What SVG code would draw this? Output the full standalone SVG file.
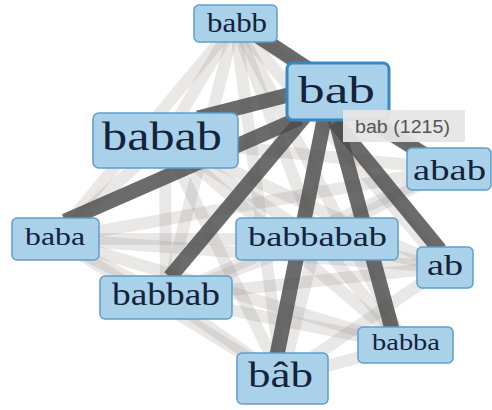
<svg xmlns="http://www.w3.org/2000/svg" width="492" height="410" viewBox="0 0 492 410">
<style>
.light line{stroke:#8f8a88;stroke-opacity:0.2;stroke-width:12;stroke-linecap:butt}
.dark line{stroke:#4a4a4a;stroke-opacity:0.82;stroke-width:15;stroke-linecap:butt}
.node rect{fill:#a9d1e9;stroke:#5f9fc9;stroke-width:1.5}
.node text{font-family:"Liberation Serif","Times New Roman",serif;fill:#14223a;text-anchor:start}
#n-bab rect{stroke:#3a88c2;stroke-width:3}
.tip rect{fill:#e6e6e6;fill-opacity:0.95}
.tip text{font-family:"Liberation Sans",Arial,sans-serif;font-size:18px;fill:#555}
</style>
<rect width="492" height="410" fill="#ffffff"/>
<g id="connectors">
<g class="light">
<line x1="235" y1="23" x2="165" y2="140"/>
<line x1="235" y1="23" x2="55" y2="239"/>
<line x1="235" y1="23" x2="166" y2="297"/>
<line x1="235" y1="23" x2="282" y2="378"/>
<line x1="235" y1="23" x2="317" y2="239"/>
<line x1="235" y1="23" x2="405" y2="345"/>
<line x1="235" y1="23" x2="445" y2="267"/>
<line x1="235" y1="23" x2="449" y2="169"/>
<line x1="165" y1="140" x2="55" y2="239"/>
<line x1="165" y1="140" x2="166" y2="297"/>
<line x1="165" y1="140" x2="282" y2="378"/>
<line x1="165" y1="140" x2="317" y2="239"/>
<line x1="165" y1="140" x2="405" y2="345"/>
<line x1="165" y1="140" x2="445" y2="267"/>
<line x1="165" y1="140" x2="449" y2="169"/>
<line x1="55" y1="239" x2="166" y2="297"/>
<line x1="55" y1="239" x2="282" y2="378"/>
<line x1="55" y1="239" x2="317" y2="239"/>
<line x1="55" y1="239" x2="405" y2="345"/>
<line x1="55" y1="239" x2="445" y2="267"/>
<line x1="55" y1="239" x2="449" y2="169"/>
<line x1="166" y1="297" x2="282" y2="378"/>
<line x1="166" y1="297" x2="317" y2="239"/>
<line x1="166" y1="297" x2="405" y2="345"/>
<line x1="166" y1="297" x2="445" y2="267"/>
<line x1="166" y1="297" x2="449" y2="169"/>
<line x1="317" y1="239" x2="282" y2="378"/>
<line x1="317" y1="239" x2="405" y2="345"/>
<line x1="317" y1="239" x2="445" y2="267"/>
<line x1="317" y1="239" x2="449" y2="169"/>
<line x1="282" y1="378" x2="405" y2="345"/>
<line x1="282" y1="378" x2="445" y2="267"/>
</g>
<g class="dark">
<line x1="258" y1="36" x2="322" y2="78"/>
<line x1="292" y1="94" x2="198" y2="118"/>
<line x1="300" y1="118" x2="65" y2="221"/>
<line x1="310" y1="110" x2="170" y2="277"/>
<line x1="325" y1="115" x2="277" y2="355"/>
<line x1="335" y1="118" x2="392" y2="329"/>
<line x1="335" y1="122" x2="440" y2="250"/>
<line x1="345" y1="105" x2="438" y2="163"/>
</g>
</g>
<g id="n-babb" class="node"><rect x="194" y="5" width="83" height="37" rx="5"/><text x="207" y="32" font-size="27" textLength="60" lengthAdjust="spacingAndGlyphs">babb</text></g>
<g id="n-babab" class="node"><rect x="93" y="113" width="145" height="55" rx="6"/><text x="102" y="150" font-size="40" textLength="120" lengthAdjust="spacingAndGlyphs">babab</text></g>
<g id="n-abab" class="node"><rect x="407" y="148" width="84" height="42" rx="5"/><text x="413" y="180" font-size="29" textLength="73" lengthAdjust="spacingAndGlyphs">abab</text></g>
<g id="n-baba" class="node"><rect x="12" y="218" width="87" height="42" rx="5"/><text x="25" y="245" font-size="26" textLength="60" lengthAdjust="spacingAndGlyphs">baba</text></g>
<g id="n-babbabab" class="node"><rect x="236" y="218" width="162" height="42" rx="5"/><text x="248" y="246" font-size="28" textLength="139" lengthAdjust="spacingAndGlyphs">babbabab</text></g>
<g id="n-ab" class="node"><rect x="417" y="247" width="56" height="41" rx="5"/><text x="427" y="275" font-size="29" textLength="36" lengthAdjust="spacingAndGlyphs">ab</text></g>
<g id="n-babbab" class="node"><rect x="100" y="276" width="132" height="43" rx="5"/><text x="112" y="305" font-size="31" textLength="108" lengthAdjust="spacingAndGlyphs">babbab</text></g>
<g id="n-babba" class="node"><rect x="358" y="327" width="95" height="36" rx="5"/><text x="372" y="350" font-size="24" textLength="68" lengthAdjust="spacingAndGlyphs">babba</text></g>
<g id="n-bab2" class="node"><rect x="237" y="353" width="91" height="51" rx="5"/><text x="248" y="387" font-size="35" textLength="65" lengthAdjust="spacingAndGlyphs">bâb</text></g>
<g id="n-bab" class="node"><rect x="287" y="63" width="102" height="57" rx="6"/><text x="298" y="103" font-size="38" textLength="77" lengthAdjust="spacingAndGlyphs">bab</text></g>
<g id="tooltip" class="tip"><rect x="343" y="110" width="122" height="32"/><text x="355" y="133" textLength="95" lengthAdjust="spacingAndGlyphs">bab (1215)</text></g>
</svg>
